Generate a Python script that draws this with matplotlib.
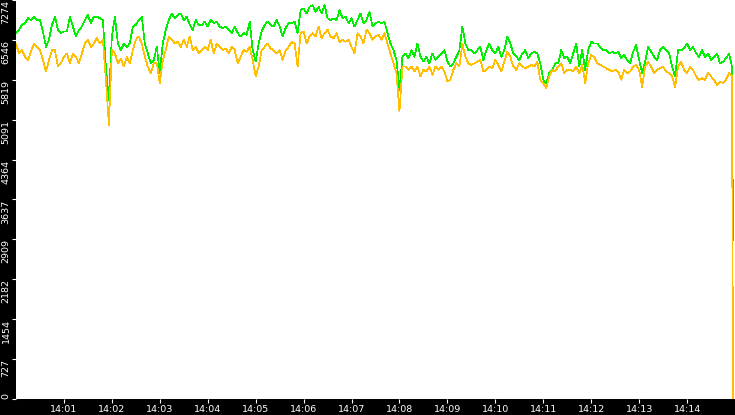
import numpy as np
import matplotlib
matplotlib.use("Agg")
import matplotlib.pyplot as plt

# readings every 3.75 s from 14:00:00, then the final drop just before 14:15
sample_step_s = 3.75
last_sample_s = 897.5

green = [
    # 14:00:00 - 14:03:00
    6670, 6730, 6820, 6850, 6940, 6910, 6970, 6910, 6910, 6700,
    6420, 6550, 6820, 6970, 6730, 6670, 6700, 6700, 6970, 6790,
    6610, 6730, 6790, 6910, 7000, 6850, 6970, 6970, 6940, 6910,
    6060, 5450, 6610, 6970, 6480, 6360, 6480, 6420, 6480, 6790,
    6820, 6910, 6970, 6480, 6300, 6120, 6180, 6420, 5940,
    # 14:03:00 - 14:06:00
    6480, 6730, 6910, 7030, 6940, 7000, 7030, 6910, 6970, 6820,
    6730, 6910, 6820, 6820, 6880, 6790, 6910, 6850, 6880, 6790,
    6760, 6790, 6730, 6670, 6790, 6670, 6610, 6670, 6640, 6880,
    6360, 6150, 6480, 6700, 6820, 6880, 6820, 6790, 6910, 6790,
    6610, 6760, 6850, 6850, 6880, 6670, 7090, 7120,
    # 14:06:00 - 14:09:00
    7030, 7150, 7180, 7060, 7150, 7030, 7180, 6940, 6910, 6940,
    6910, 7090, 6940, 6970, 6850, 6940, 6790, 6910, 7030, 6850,
    6910, 7060, 6790, 6850, 6880, 6850, 6880, 6670, 6480, 6360,
    6180, 5630, 6240, 6300, 6210, 6360, 6240, 6480, 6240, 6150,
    6240, 6120, 6300, 6180, 6240, 6300, 6360, 6150,
    # 14:09:00 - 14:12:00
    6060, 6120, 6240, 6360, 6790, 6480, 6360, 6360, 6300, 6360,
    6420, 6180, 6360, 6480, 6360, 6300, 6420, 6240, 6360, 6610,
    6480, 6300, 6240, 6180, 6300, 6360, 6210, 6300, 6330, 6300,
    6120, 5820, 5760, 5940, 6000, 6120, 6120, 6360, 6210, 6240,
    6120, 6300, 6480, 6060, 6360, 6000, 6360, 6510,
    # 14:12:00 - 14:15:00
    6480, 6480, 6420, 6360, 6360, 6300, 6330, 6300, 6330, 6210,
    6270, 6180, 6120, 6330, 6450, 6180, 5940, 6150, 6420, 6330,
    6240, 6180, 6360, 6420, 6360, 6300, 6060, 5880, 6360, 6360,
    6390, 6480, 6360, 6420, 6300, 6240, 6360, 6240, 6300, 6180,
    6240, 6300, 6120, 6150, 6210, 6300, 6060,
    2900,
]

orange = [
    6480, 6300, 6360, 6240, 6180, 6330, 6480, 6420, 6360, 6180,
    5970, 6180, 6360, 6360, 6060, 6120, 6240, 6300, 6120, 6300,
    6240, 6120, 6300, 6480, 6550, 6420, 6480, 6580, 6480, 6550,
    5820, 5000, 6360, 6300, 6120, 6210, 6060, 6240, 6120, 6360,
    6550, 6610, 6480, 6240, 6060, 5940, 6120, 6120, 5760,
    6180, 6360, 6610, 6550, 6480, 6510, 6420, 6550, 6420, 6610,
    6360, 6420, 6300, 6360, 6420, 6360, 6550, 6300, 6480, 6420,
    6360, 6390, 6300, 6420, 6360, 6120, 6240, 6360, 6330, 6420,
    6180, 5880, 6060, 6360, 6420, 6480, 6390, 6360, 6300, 6360,
    6180, 6360, 6420, 6510, 6480, 6060, 6670, 6700,
    6480, 6610, 6670, 6610, 6790, 6580, 6670, 6730, 6610, 6580,
    6670, 6510, 6550, 6510, 6550, 6420, 6300, 6670, 6610, 6480,
    6730, 6670, 6550, 6610, 6640, 6550, 6670, 6480, 6300, 6120,
    5940, 5240, 6060, 6060, 6000, 6060, 5970, 6060, 5880, 6000,
    5970, 6060, 5910, 6060, 6000, 6060, 5970, 5790,
    5820, 6000, 6120, 6060, 6480, 6240, 6120, 6090, 6120, 6150,
    6180, 5970, 6000, 6060, 6030, 6180, 6090, 5970, 6150, 6330,
    6240, 6060, 6000, 6120, 6060, 6030, 6060, 6090, 6060, 6150,
    5820, 5760, 5660, 5880, 6000, 5970, 6060, 6120, 5940, 6000,
    6000, 5970, 6060, 5940, 6090, 5760, 6120, 6270,
    6240, 6120, 6090, 6060, 6030, 6000, 5970, 6000, 5970, 5820,
    6000, 5940, 5970, 6060, 6090, 6000, 5690, 6060, 6150, 6060,
    5940, 6000, 6030, 6060, 5970, 5940, 5880, 5690, 6060, 6150,
    6000, 5940, 6060, 6000, 5880, 5820, 5850, 5820, 5940, 5880,
    5820, 5730, 5790, 5760, 5820, 5940, 5880,
    0,
]

y_ticks = [0, 727, 1454, 2182, 2909, 3637, 4364, 5091, 5819, 6546, 7274]
x_tick_labels = ["14:01", "14:02", "14:03", "14:04", "14:05", "14:06", "14:07",
                 "14:08", "14:09", "14:10", "14:11", "14:12", "14:13", "14:14"]

n = len(green) - 1
t = np.append(np.arange(n) * sample_step_s, last_sample_s) / 60.0

fig = plt.figure(figsize=(7.35, 4.15), dpi=100, facecolor="black")
ax = fig.add_axes([16 / 735, 16 / 415, 719 / 735, 399 / 415])
ax.set_facecolor("white")

ax.plot(t, green, color="#00ee00", lw=0.5, antialiased=False, zorder=2)
ax.plot(t, orange, color="#ffbf00", lw=0.5, antialiased=False, zorder=3)

ax.set_xlim(0, 15)
ax.set_ylim(0, 7274)

ax.set_xticks(np.arange(1, 15))
ax.set_xticklabels(x_tick_labels)
ax.set_yticks(y_ticks)
ax.tick_params(colors="white", labelsize=6.8, length=3, width=0.8)
ax.tick_params(axis="x", pad=1.5)
ax.tick_params(axis="y", pad=1)

# y labels hang below their tick, the 0 label sits on the bottom edge
labels = ax.set_yticklabels([str(v) for v in y_ticks], rotation=90, va="top")
labels[0].set_va("bottom")

for s in ax.spines.values():
    s.set_visible(False)

fig.savefig("out.png", dpi=100, facecolor="black")
